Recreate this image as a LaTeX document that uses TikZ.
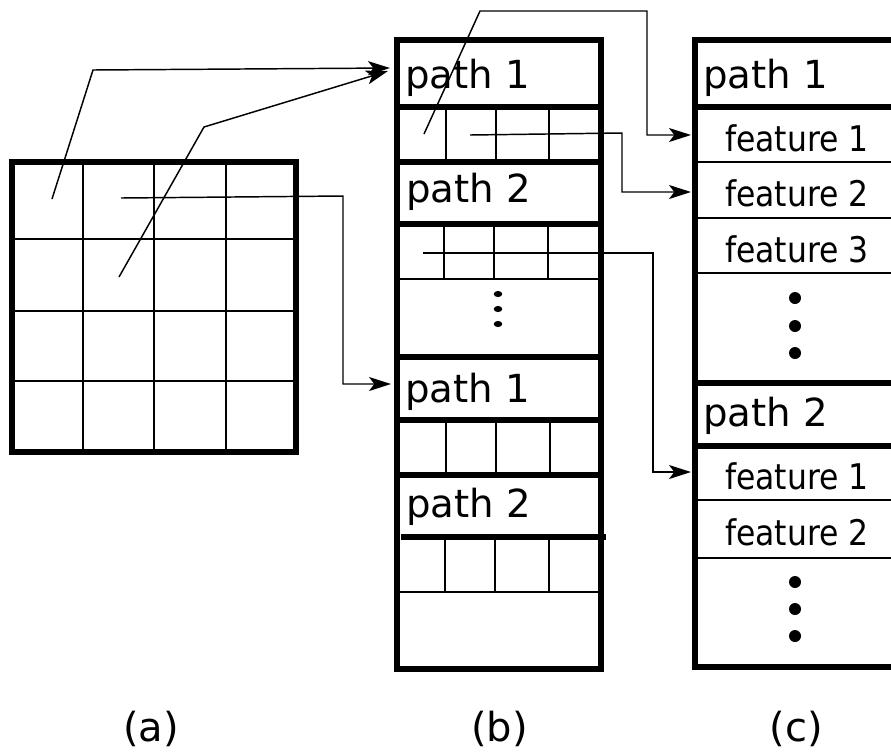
\documentclass[tikz,border=0pt]{standalone}
\usepackage{fontspec}
\setmainfont{DejaVu Sans}
\newfontfamily\condfont[FakeStretch=0.89]{DejaVu Sans}
\usetikzlibrary{arrows.meta}
\begin{document}
\begin{tikzpicture}[x=0.75pt,y=-0.75pt,
  heavy/.style={line width=4.8pt,line join=miter,line cap=rect},
  fine/.style={line width=1.1pt},
  conn/.style={line width=1.1pt,-{Stealth[length=16.5pt,width=10.5pt,inset=4pt]}},
  pathlbl/.style={anchor=base west,inner sep=0pt,font=\fontsize{29}{34}\selectfont},
  featlbl/.style={anchor=base,inner sep=0pt,font=\condfont\fontsize{26.5}{31}\selectfont},
  caplbl/.style={anchor=base,inner sep=0pt,font=\fontsize{30}{36}\selectfont}]
\useasboundingbox (0,0) rectangle (891,751);
\clip (0,0) rectangle (891,751);

% ---------- (a) grid ----------
\foreach \x in {83,154,226} \draw[fine] (\x,162) -- (\x,452);
\foreach \y in {239,311,381} \draw[fine] (12,\y) -- (296,\y);
\draw[heavy] (12,162) rectangle (296,452);

% ---------- (b) ----------
\foreach \x in {446,496,549} \draw[fine] (\x,107) -- (\x,162);
\foreach \x in {444,494,548} \draw[fine] (\x,224) -- (\x,279);
\foreach \x in {446,496,550} \draw[fine] (\x,420) -- (\x,475);
\foreach \x in {445,495,549} \draw[fine] (\x,537) -- (\x,592);
\draw[fine] (397,279) -- (601,279);
\draw[fine] (397,592) -- (601,592);
\foreach \y in {107,162,357,420,475} \draw[heavy,line cap=butt] (397,\y) -- (601,\y);
\draw[heavy,line cap=butt] (397,224) -- (604,224);
\draw[heavy,line cap=butt] (401,537) -- (606,537);
\draw[heavy] (397,40) rectangle (601,669);
\fill (498,294) ellipse [x radius=3.2pt,y radius=2.3pt];
\fill (498,309) ellipse [x radius=3.2pt,y radius=2.3pt];
\fill (498,324) ellipse [x radius=3.2pt,y radius=2.3pt];

\node[pathlbl] (bp1) at (405,88) {path 1};
\node[pathlbl] (bp2) at (406,202) {path 2};
\node[pathlbl] (bp3) at (405,402) {path 1};
\node[pathlbl] (bp4) at (406,517) {path 2};

% ---------- (c) ----------
\foreach \y in {162,218,273,500,558} \draw[fine] (695,\y) -- (900,\y);
\foreach \y in {107,383,446} \draw[heavy,line cap=butt] (695,\y) -- (900,\y);
\draw[heavy] (695,40) rectangle (905,667);
\foreach \y in {298,326,353,582,609,636} \fill (795,\y) circle [radius=4.5pt];

\node[pathlbl] (cp1) at (703,88) {path 1};
\node[pathlbl] (cp2) at (703,426) {path 2};
\node[featlbl] (cf1) at (797,151) {feature 1};
\node[featlbl] (cf2) at (797,206.5) {feature 2};
\node[featlbl] (cf3) at (797,262) {feature 3};
\node[featlbl] (cf4) at (797,489.5) {feature 1};
\node[featlbl] (cf5) at (797,545.5) {feature 2};

% ---------- captions ----------
\node[caplbl] (capa) at (151,741) {(a)};
\node[caplbl] (capb) at (499.5,741) {(b)};
\node[caplbl] (capc) at (796,741) {(c)};

% ---------- connectors ----------
\coordinate (s1) at (52,199);   \coordinate (k1) at (93,70);   \coordinate (t1) at (390,68);
\coordinate (s2) at (119,277);  \coordinate (k2) at (204,127); \coordinate (t2) at (388,71);
\coordinate (s3) at (121,198);  \coordinate (k3a) at (343,196); \coordinate (k3b) at (343,384); \coordinate (t3) at (391,384);
\coordinate (s4) at (424,134);  \coordinate (k4a) at (480,11); \coordinate (k4b) at (647,11); \coordinate (k4c) at (647,135); \coordinate (t4) at (691,135);
\coordinate (s5) at (470,135);  \coordinate (k5a) at (622,133); \coordinate (k5b) at (622,192); \coordinate (t5) at (691,192);
\coordinate (s6) at (423,253);  \coordinate (k6a) at (653,253); \coordinate (k6b) at (653,472); \coordinate (t6) at (691,472);

\draw[conn] (s1) -- (k1) -- (t1);
\draw[conn] (s2) -- (k2) -- (t2);
\draw[conn] (s3) -- (k3a) -- (k3b) -- (t3);
\draw[conn] (s4) -- (k4a) -- (k4b) -- (k4c) -- (t4);
\draw[conn] (s5) -- (k5a) -- (k5b) -- (t5);
\draw[conn] (s6) -- (k6a) -- (k6b) -- (t6);
\end{tikzpicture}
\end{document}
